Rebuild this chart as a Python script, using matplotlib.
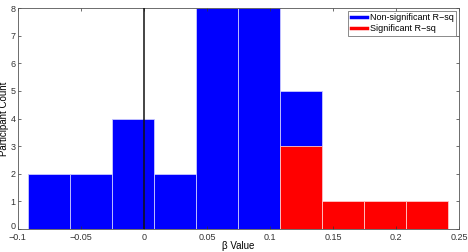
import matplotlib
matplotlib.use("Agg")
import matplotlib.pyplot as plt
import matplotlib.transforms as mtransforms
import numpy as np
from matplotlib.lines import Line2D

# histogram bins (beta values)
bin_start = -0.0921
bin_width = 0.03333
n_bins = 10
nonsig_counts = [2, 2, 4, 2, 8, 8, 5, 0, 0, 0]   # total height of blue bars
sig_counts = [0, 0, 0, 0, 0, 0, 3, 1, 1, 1]      # red bars drawn over

x_ticks = [-0.1, -0.05, 0, 0.05, 0.1, 0.15, 0.2, 0.25]
x_ticklabels = ["\u22120.1", "\u22120.05", "0", "0.05", "0.1", "0.15", "0.2", "0.25"]
y_ticks = [0, 1, 2, 3, 4, 5, 6, 7, 8]

plt.rcParams["font.family"] = ["Liberation Sans", "DejaVu Sans"]

fig = plt.figure(figsize=(4.68, 2.52), dpi=100)
ax = fig.add_axes([0.038, 0.091, 0.943, 0.877])

edges = bin_start + bin_width * np.arange(n_bins)
ax.bar(edges, nonsig_counts, width=bin_width, align="edge",
       color="#0000ff", edgecolor="#c8c8ff", linewidth=0.6)
ax.bar(edges, sig_counts, width=bin_width, align="edge",
       color="#ff0000", edgecolor="#ffc8c8", linewidth=0.6)

ax.axvline(0, color="#111111", linewidth=1.1, zorder=3)

ax.set_xlim(-0.1, 0.25)
ax.set_ylim(0, 8)
ax.set_xticks(x_ticks)
ax.set_xticklabels(x_ticklabels)
ax.set_yticks(y_ticks)
ax.tick_params(direction="in", length=2.5, width=0.5, labelsize=6.5,
               top=True, right=True, pad=1.5, colors="#333333")
ax.tick_params(axis="x", pad=2.8)
for s in ax.spines.values():
    s.set_linewidth(0.6)
    s.set_color("#555555")

# nudge the y "0" up a little so it clears the "-0.1" below it
lab0 = ax.get_yticklabels()[0]
lab0.set_transform(lab0.get_transform() +
                   mtransforms.ScaledTranslation(0, 2.5 / 72, fig.dpi_scale_trans))

ax.set_xlabel("\u03b2 Value", fontsize=7, labelpad=-1)
ax.set_ylabel("Participant Count", fontsize=7, labelpad=1)

handles = [Line2D([], [], color="#0000ff", linewidth=2.5),
           Line2D([], [], color="#ff0000", linewidth=2.5)]
leg = ax.legend(handles, ["Non-significant R\u2212sq", "Significant R\u2212sq"],
                loc="upper right", fontsize=6.5, frameon=True, fancybox=False,
                borderpad=0.3, handlelength=1.8, handletextpad=0.3,
                labelspacing=0.15, borderaxespad=0.3)
leg.get_frame().set_edgecolor("#555555")
leg.get_frame().set_linewidth(0.6)

fig.savefig("out.png", dpi=100)
